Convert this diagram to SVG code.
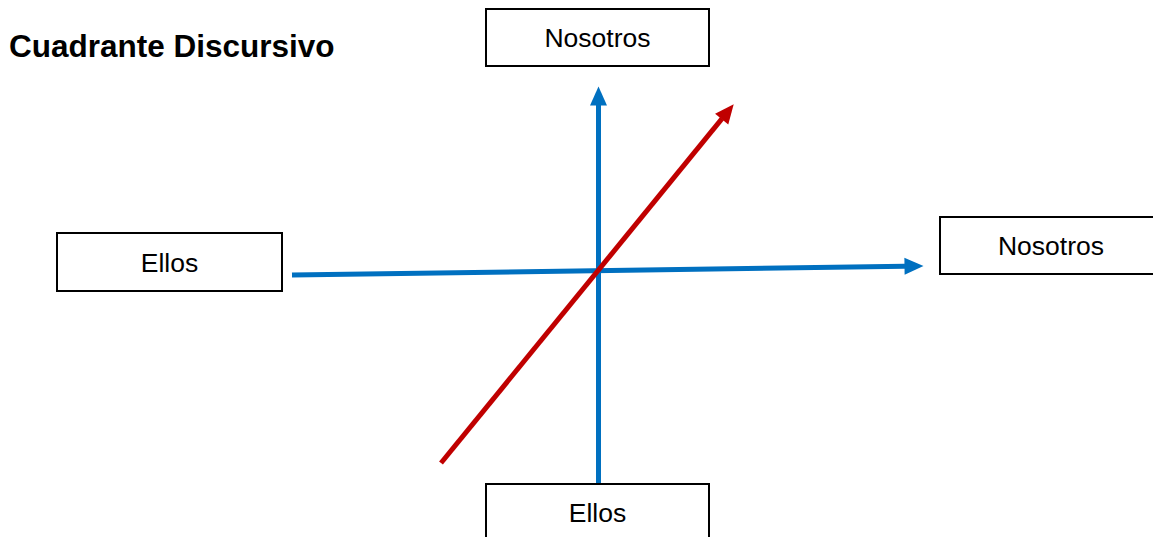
<svg xmlns="http://www.w3.org/2000/svg" width="1153" height="537" viewBox="0 0 1153 537">
<style>
.box{fill:#fff;stroke:#000;stroke-width:2}
.lbl{font-family:"Liberation Sans",Arial,sans-serif;font-size:26.5px;fill:#000;text-anchor:middle}
.title{font-family:"Liberation Sans",Arial,sans-serif;font-size:31.5px;font-weight:bold;fill:#000}
.blue{stroke:#0070C0;stroke-width:5;fill:none}
.red{stroke:#C00000;stroke-width:5;fill:none}
</style>
<defs>
<marker id="ab" markerUnits="userSpaceOnUse" markerWidth="20" markerHeight="18" refX="0.5" refY="8.5" orient="auto" overflow="visible">
<path d="M0,0 L19,8.5 L0,17 z" fill="#0070C0"/>
</marker>
<marker id="ar" markerUnits="userSpaceOnUse" markerWidth="20" markerHeight="18" refX="0.5" refY="8.5" orient="auto" overflow="visible">
<path d="M0,0 L19,8.5 L0,17 z" fill="#C00000"/>
</marker>
</defs>
<rect width="1153" height="537" fill="#fff"/>
<text class="title" x="9" y="57">Cuadrante Discursivo</text>
<g id="connectors">
<line class="blue" x1="598.5" y1="484" x2="598.5" y2="105" marker-end="url(#ab)"/>
<line class="blue" x1="292" y1="275" x2="905" y2="266.3" marker-end="url(#ab)"/>
<line class="red" x1="441" y1="463" x2="722" y2="118.7" marker-end="url(#ar)"/>
</g>
<g id="node-top">
<rect class="box" x="486" y="9" width="223" height="57"/>
<text class="lbl" x="597.5" y="47">Nosotros</text>
</g>
<g id="node-right">
<rect class="box" x="940" y="217" width="230" height="57"/>
<text class="lbl" x="1051" y="255">Nosotros</text>
</g>
<g id="node-left">
<rect class="box" x="57" y="233" width="225" height="58"/>
<text class="lbl" x="169.5" y="272">Ellos</text>
</g>
<g id="node-bottom">
<rect class="box" x="486" y="484" width="223" height="70"/>
<text class="lbl" x="597.5" y="522">Ellos</text>
</g>
</svg>
